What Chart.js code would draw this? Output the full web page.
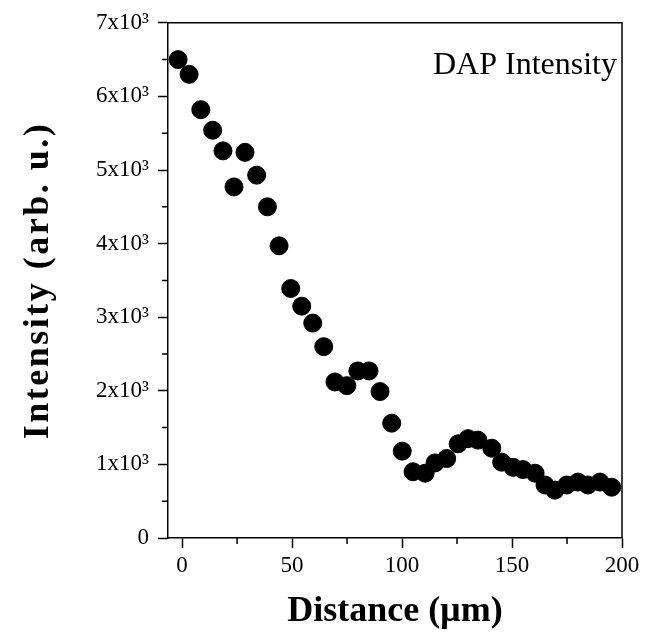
<!DOCTYPE html>
<html>
<head>
<meta charset="utf-8">
<script src="https://cdn.jsdelivr.net/npm/chart.js@4"></script>
<style>
  html, body { margin: 0; padding: 0; background: #fff; }
  #wrap { width: 653px; height: 637px; }
</style>
</head>
<body>
<div id="wrap"><canvas id="dapChart" width="653" height="637"></canvas></div>
<script>
// distance along the line scan (um) and DAP intensity (arb. u.)
const distance = [
  -1.8, 3.2, 8.5, 13.9, 18.6, 23.6, 28.6, 33.9, 38.8, 44.1,
  49.4, 54.4, 59.4, 64.4, 69.5, 74.9, 79.9, 85.0, 90.0, 95.3,
  100.1, 105.0, 110.5, 115.0, 120.3, 125.5, 130.0, 134.5, 140.8, 145.3,
  150.5, 155.0, 160.5, 165.0, 169.5, 174.9, 180.0, 184.5, 190.0, 195.3
];
const intensity = [
  6500, 6300, 5820, 5540, 5260, 4770, 5240, 4930, 4500, 3970,
  3390, 3150, 2920, 2600, 2120, 2070, 2270, 2270, 1990, 1560,
  1180, 900, 880, 1020, 1080, 1280, 1350, 1330, 1220, 1030,
  960, 930, 880, 720, 650, 720, 760, 720, 760, 690
];
const xTicks = [0, 50, 100, 150, 200];
const xMinorTicks = [25, 75, 125, 175];
const yMinorTicks = [500, 1500, 2500, 3500, 4500, 5500, 6500];

const serif = "'Liberation Serif', 'Times New Roman', serif";

// box, minor ticks and inset label
const framePlugin = {
  id: "frame",
  afterLayout(chart) {
    // the y title in the original is set quite wide
    const y = chart.scales.y;
    if (!y._spacedTitle) {
      const orig = y.drawTitle;
      y.drawTitle = function () {
        const ctx = this.ctx;
        ctx.save();
        ctx.letterSpacing = "2.5px";
        orig.apply(this, arguments);
        ctx.restore();
      };
      y._spacedTitle = true;
    }
  },
  afterDraw(chart) {
    const { ctx, chartArea: a, scales } = chart;
    ctx.save();
    ctx.strokeStyle = "#000";
    ctx.lineWidth = 1.5;
    ctx.beginPath();
    ctx.moveTo(a.left, a.top);
    ctx.lineTo(a.right, a.top);
    ctx.lineTo(a.right, a.bottom);
    ctx.stroke();

    ctx.beginPath();
    for (const v of yMinorTicks) {
      const py = scales.y.getPixelForValue(v);
      ctx.moveTo(a.left - 6, py);
      ctx.lineTo(a.left, py);
    }
    for (const v of xMinorTicks) {
      const px = scales.x.getPixelForValue(v);
      ctx.moveTo(px, a.bottom);
      ctx.lineTo(px, a.bottom + 6);
    }
    ctx.stroke();

    ctx.fillStyle = "#000";
    ctx.font = "32px " + serif;
    ctx.textAlign = "right";
    ctx.textBaseline = "alphabetic";
    ctx.fillText("DAP Intensity", a.right - 5, a.top + 51);
    ctx.restore();
  }
};

new Chart(document.getElementById("dapChart"), {
  type: "scatter",
  data: {
    datasets: [{
      label: "DAP Intensity",
      data: distance.map((d, i) => ({ x: d, y: intensity[i] })),
      backgroundColor: "#000",
      borderColor: "#000",
      pointRadius: 9,
      pointHoverRadius: 9,
      showLine: false
    }]
  },
  options: {
    responsive: false,
    animation: false,
    layout: { padding: { top: 21, right: 31, left: 0, bottom: 0 } },
    plugins: {
      legend: { display: false },
      tooltip: { enabled: false }
    },
    scales: {
      x: {
        type: "linear",
        min: -6.4,
        max: 200,
        afterBuildTicks: scale => { scale.ticks = xTicks.map(v => ({ value: v })); },
        afterFit: scale => { scale.height = 99; },
        border: { display: true, color: "#000", width: 1.5 },
        grid: { drawOnChartArea: false, drawTicks: true, tickLength: 10, color: "#000", tickWidth: 1.5 },
        ticks: { color: "#000", font: { family: serif, size: 23 }, padding: 4, maxRotation: 0 },
        title: {
          display: true,
          text: "Distance (µm)",
          color: "#000",
          font: { family: serif, size: 36, weight: "bold", lineHeight: 1 },
          padding: { top: 0, bottom: 7 }
        }
      },
      y: {
        min: 0,
        max: 7000,
        ticks: {
          stepSize: 1000,
          color: "#000",
          font: { family: serif, size: 23 },
          padding: 9,
          callback: v => v === 0 ? "0" : (v / 1000) + "x10³"
        },
        afterFit: scale => { scale.width = 168; },
        border: { display: true, color: "#000", width: 1.5 },
        grid: { drawOnChartArea: false, drawTicks: true, tickLength: 10, color: "#000", tickWidth: 1.5 },
        title: {
          display: true,
          text: "Intensity (arb. u.)",
          color: "#000",
          font: { family: serif, size: 36, weight: "bold", lineHeight: 1 },
          padding: { top: 21, bottom: 0 }
        }
      }
    }
  },
  plugins: [framePlugin]
});
</script>
</body>
</html>
